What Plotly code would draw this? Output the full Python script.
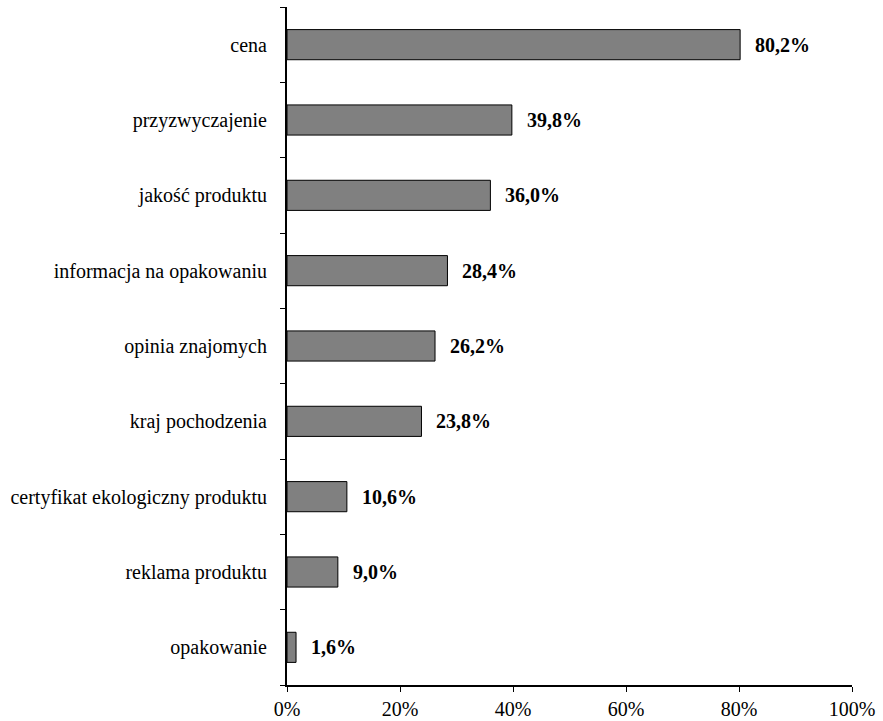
import plotly.graph_objects as go

categories = ["opakowanie", "reklama produktu", "certyfikat ekologiczny produktu",
              "kraj pochodzenia", "opinia znajomych", "informacja na opakowaniu",
              "jakość produktu", "przyzwyczajenie", "cena"]
values = [1.6, 9.0, 10.6, 23.8, 26.2, 28.4, 36.0, 39.8, 80.2]
value_labels = ["1,6%", "9,0%", "10,6%", "23,8%", "26,2%", "28,4%", "36,0%", "39,8%", "80,2%"]
tick_vals = [0, 20, 40, 60, 80, 100]
tick_text = ["0%", "20%", "40%", "60%", "80%", "100%"]

font_family = "Liberation Serif"

fig = go.Figure()
fig.add_trace(go.Bar(
    y=categories, x=values, orientation="h",
    marker=dict(color="#808080", line=dict(color="black", width=1)),
    hoverinfo="skip",
))

for c, v, t in zip(categories, values, value_labels):
    fig.add_annotation(x=v, y=c, text="<b>" + t + "</b>", showarrow=False,
                       xanchor="left", yanchor="middle", xshift=13,
                       font=dict(family=font_family, size=20, color="black"))

fig.update_layout(
    width=883, height=721,
    margin=dict(l=287, r=31, t=7, b=36),
    paper_bgcolor="white", plot_bgcolor="white",
    bargap=0.6,
    showlegend=False,
    font=dict(family=font_family, size=20, color="black"),
    xaxis=dict(range=[0, 100], tickvals=tick_vals, ticktext=tick_text,
               showgrid=False, zeroline=False, showline=True, linecolor="black",
               linewidth=2, ticks="outside", ticklen=5, tickcolor="black",
               tickwidth=1, ticklabelstandoff=0, automargin=False,
               tickfont=dict(family=font_family, size=20)),
    yaxis=dict(showgrid=False, zeroline=False, showline=True, linecolor="black",
               linewidth=2, ticks="outside", ticklen=5, tickcolor="black",
               tickwidth=1, tickson="boundaries", ticklabelstandoff=14,
               automargin=False,
               tickfont=dict(family=font_family, size=20)),
)

fig.write_html("out.html")
